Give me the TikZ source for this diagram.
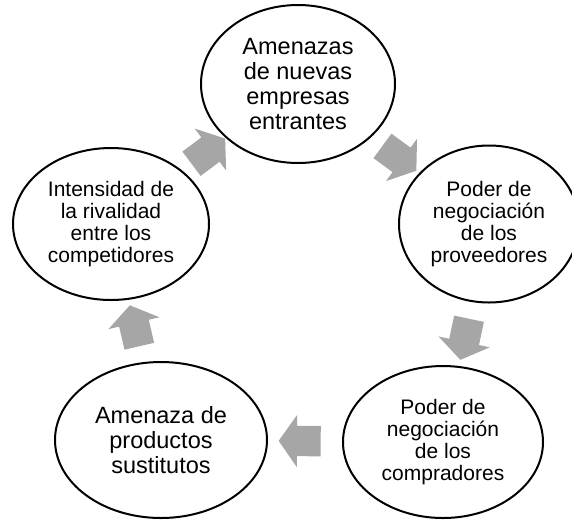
\documentclass[tikz,border=0pt]{standalone}
\usepackage{fontspec}
\setmainfont{Liberation Sans}
\usetikzlibrary{shapes.geometric,shapes.arrows}
\definecolor{arrowgray}{HTML}{A6A6A6}

\begin{document}
\begin{tikzpicture}[
x=1pt, y=-1pt,
force/.style={ellipse, draw=black, line width=2pt, inner sep=0pt, align=center,
  font=\fontsize{21}{22}\selectfont},
bigforce/.style={force, font=\fontsize{23.5}{25}\selectfont},
flow/.style={single arrow, fill=arrowgray, draw=none, inner xsep=0pt, inner ysep=15pt,
  minimum height=42pt, single arrow head extend=11pt,
  single arrow tip angle=110, single arrow head indent=0pt},
]
\useasboundingbox (0,0) rectangle (572,520);
\node[bigforce, minimum width=194pt, minimum height=158pt] (entrantes) at (298,84)
	{Amenazas\\de nuevas\\empresas\\entrantes};
\node[force, minimum width=180pt, minimum height=157pt] (proveedores) at (489,224)
	{Poder de\\negociación\\de los\\proveedores};
\node[force, minimum width=200pt, minimum height=152pt] (compradores) at (443,442)
	{Poder de\\negociación\\de los\\compradores};
\node[bigforce, minimum width=212pt, minimum height=156pt] (sustitutos) at (161,440)
	{Amenaza de\\productos\\sustitutos};
\node[force, minimum width=196pt, minimum height=152pt] (rivalidad) at (111,224)
	{Intensidad de\\la rivalidad\\entre los\\competidores};
% block arrows between the forces
\path (entrantes) -- node[flow, sloped, allow upside down] {} (proveedores);
\path (proveedores) -- node[flow, sloped, allow upside down] {} (compradores);
\path (compradores) -- node[flow, sloped, allow upside down] {} (sustitutos);
\path (sustitutos) -- node[flow, sloped, allow upside down] {} (rivalidad);
\path (rivalidad) -- node[flow, sloped, allow upside down] {} (entrantes);
\end{tikzpicture}
\end{document}
